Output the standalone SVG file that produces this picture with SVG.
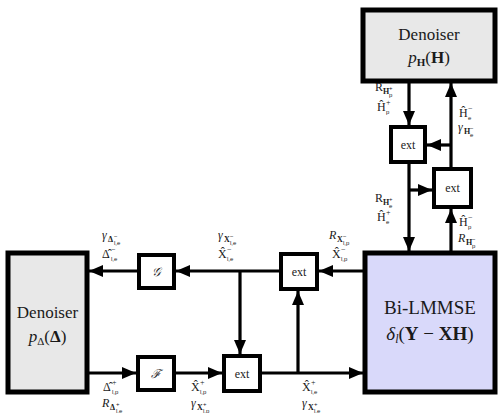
<svg xmlns="http://www.w3.org/2000/svg" width="498" height="413" viewBox="0 0 498 413">
<style>
.den{fill:#e8e8e8;stroke:#000;stroke-width:5}
.lm{fill:#d9d9fa;stroke:#000;stroke-width:5}
.ext{fill:#fff;stroke:#000;stroke-width:4}
.c{fill:none;stroke:#000;stroke-width:3.2}
text{font-family:"Liberation Serif","Times New Roman","DejaVu Serif",serif;fill:#1a1a1a}
.big{font-size:17px}
.m{font-size:12px}
.s{font-size:8px}
.ss{font-size:6px;font-family:"Liberation Sans",Arial,sans-serif}
.b{font-weight:bold}
.i{font-style:italic}
.bt{font-size:12px}
</style>
<defs>
<marker id="ah" markerWidth="14" markerHeight="12" refX="14" refY="6" orient="auto" markerUnits="userSpaceOnUse">
<path d="M0,0 L14,6 L0,12 z" fill="#000"/>
</marker>
</defs>

<g id="denoiserH">
<rect class="den" x="363" y="10" width="132" height="71"/>
<text class="big" x="429" y="40" text-anchor="middle">Denoiser</text>
<text class="big" x="429" y="63" text-anchor="middle"><tspan class="i">p</tspan><tspan class="b" font-size="11" dy="3">H</tspan><tspan dy="-3">(</tspan><tspan class="b">H</tspan>)</text>
</g>

<g id="ext1">
<rect class="ext" x="391" y="127" width="34" height="35"/>
<text class="bt" x="408" y="149" text-anchor="middle">ext</text>
</g>
<g id="ext2">
<rect class="ext" x="434" y="169" width="37" height="38"/>
<text class="bt" x="452.5" y="192" text-anchor="middle">ext</text>
</g>

<g id="bilmmse">
<rect class="lm" x="365" y="253" width="130" height="139"/>
<text x="430" y="314" text-anchor="middle" font-size="19">Bi-LMMSE</text>
<text x="430" y="340" text-anchor="middle" font-size="19"><tspan class="i">δ</tspan><tspan class="i" font-size="12" dy="3">l</tspan><tspan dy="-3">(</tspan><tspan class="b">Y</tspan> − <tspan class="b">XH</tspan>)</text>
</g>

<g id="denoiserD">
<rect class="den" x="8" y="253" width="79" height="139"/>
<text class="big" x="47.5" y="318" text-anchor="middle">Denoiser</text>
<text class="big" x="47.5" y="342" text-anchor="middle"><tspan class="i">p</tspan><tspan font-size="11" dy="3">Δ</tspan><tspan dy="-3">(</tspan><tspan class="b">Δ</tspan>)</text>
</g>

<g id="G">
<rect class="ext" x="139" y="255" width="35" height="33"/>
<text x="156.5" y="276" text-anchor="middle" font-size="12" class="i">𝒢</text>
</g>
<g id="extTop">
<rect class="ext" x="281" y="254" width="36" height="35"/>
<text class="bt" x="299" y="276" text-anchor="middle">ext</text>
</g>
<g id="F">
<rect class="ext" x="138" y="357" width="36" height="33"/>
<text x="156" y="378" text-anchor="middle" font-size="12" class="i">ℱ</text>
</g>
<g id="extBot">
<rect class="ext" x="224" y="356" width="36" height="35"/>
<text class="bt" x="242" y="378" text-anchor="middle">ext</text>
</g>

<g id="connectors">
<path class="c" d="M409,83 V125" marker-end="url(#ah)"/>
<path class="c" d="M409,164 V251" marker-end="url(#ah)"/>
<path class="c" d="M409,190 H432" marker-end="url(#ah)"/>
<path class="c" d="M451,251 V209" marker-end="url(#ah)"/>
<path class="c" d="M451,167 V83" marker-end="url(#ah)"/>
<path class="c" d="M451,145 H427" marker-end="url(#ah)"/>
<path class="c" d="M363,271 H319" marker-end="url(#ah)"/>
<path class="c" d="M279,271 H176" marker-end="url(#ah)"/>
<path class="c" d="M137,271 H89" marker-end="url(#ah)"/>
<path class="c" d="M240,271 V354" marker-end="url(#ah)"/>
<path class="c" d="M89,373 H136" marker-end="url(#ah)"/>
<path class="c" d="M176,373 H222" marker-end="url(#ah)"/>
<path class="c" d="M262,373 H363" marker-end="url(#ah)"/>
<path class="c" d="M298,373 V291" marker-end="url(#ah)"/>
</g>

<g id="labels">
<!-- top left of x409 -->
<text><tspan class="m" x="375" y="91">R</tspan><tspan class="s b" x="383" y="94">H</tspan><tspan class="ss" x="389" y="90">+</tspan><tspan class="ss" x="389" y="97">p</tspan></text>
<text><tspan class="m" x="377" y="111">Ĥ</tspan><tspan class="s" x="386" y="105">+</tspan><tspan class="ss" x="386" y="114">p</tspan></text>
<!-- right of x451 top -->
<text><tspan class="m" x="459" y="117">Ĥ</tspan><tspan class="s" x="468" y="111">−</tspan><tspan class="ss" x="468" y="120">e</tspan></text>
<text><tspan class="m i" x="458" y="131">γ</tspan><tspan class="s b" x="464" y="134">H</tspan><tspan class="ss" x="470" y="130">−</tspan><tspan class="ss" x="470" y="137">e</tspan></text>
<!-- left of x409 lower -->
<text><tspan class="m" x="375" y="202">R</tspan><tspan class="s b" x="383" y="205">H</tspan><tspan class="ss" x="389" y="201">+</tspan><tspan class="ss" x="389" y="208">e</tspan></text>
<text><tspan class="m" x="377" y="221">Ĥ</tspan><tspan class="s" x="386" y="215">+</tspan><tspan class="ss" x="386" y="224">e</tspan></text>
<!-- right of x451 lower -->
<text><tspan class="m" x="459" y="226">Ĥ</tspan><tspan class="s" x="468" y="220">−</tspan><tspan class="ss" x="468" y="229">p</tspan></text>
<text><tspan class="m i" x="458" y="242">R</tspan><tspan class="s b" x="466" y="245">H</tspan><tspan class="ss" x="472" y="241">−</tspan><tspan class="ss" x="472" y="248">p</tspan></text>

<!-- middle top labels -->
<text><tspan class="m i" x="329" y="239">R</tspan><tspan class="s b" x="337" y="242">X</tspan><tspan class="ss" x="343" y="238">−</tspan><tspan class="ss" x="343" y="245">l,p</tspan></text>
<text><tspan class="m" x="332" y="258">X̂</tspan><tspan class="s" x="341" y="252">−</tspan><tspan class="ss" x="341" y="261">l,p</tspan></text>
<text><tspan class="m i" x="218" y="239">γ</tspan><tspan class="s b" x="224" y="242">X</tspan><tspan class="ss" x="230" y="238">−</tspan><tspan class="ss" x="230" y="245">l,e</tspan></text>
<text><tspan class="m" x="218" y="258">X̂</tspan><tspan class="s" x="227" y="252">−</tspan><tspan class="ss" x="227" y="261">l,e</tspan></text>
<text><tspan class="m i" x="102" y="239">γ</tspan><tspan class="s b" x="108" y="242">Δ</tspan><tspan class="ss" x="114" y="238">−</tspan><tspan class="ss" x="114" y="245">l,e</tspan></text>
<text><tspan class="m" x="102" y="258">Δ̂</tspan><tspan class="s" x="111" y="252">−</tspan><tspan class="ss" x="111" y="261">l,e</tspan></text>

<!-- bottom labels -->
<text><tspan class="m" x="103" y="391">Δ̂</tspan><tspan class="s" x="112" y="385">+</tspan><tspan class="ss" x="112" y="394">l,p</tspan></text>
<text><tspan class="m i" x="102" y="407">R</tspan><tspan class="s b" x="110" y="410">Δ</tspan><tspan class="ss" x="116" y="406">+</tspan><tspan class="ss" x="116" y="413">l,e</tspan></text>
<text><tspan class="m" x="191" y="391">X̂</tspan><tspan class="s" x="200" y="385">+</tspan><tspan class="ss" x="200" y="394">l,p</tspan></text>
<text><tspan class="m i" x="191" y="407">γ</tspan><tspan class="s b" x="197" y="410">X</tspan><tspan class="ss" x="203" y="406">+</tspan><tspan class="ss" x="203" y="413">l,p</tspan></text>
<text><tspan class="m" x="302" y="391">X̂</tspan><tspan class="s" x="311" y="385">+</tspan><tspan class="ss" x="311" y="394">l,e</tspan></text>
<text><tspan class="m i" x="302" y="407">γ</tspan><tspan class="s b" x="308" y="410">X</tspan><tspan class="ss" x="314" y="406">+</tspan><tspan class="ss" x="314" y="413">l,e</tspan></text>
</g>
</svg>
